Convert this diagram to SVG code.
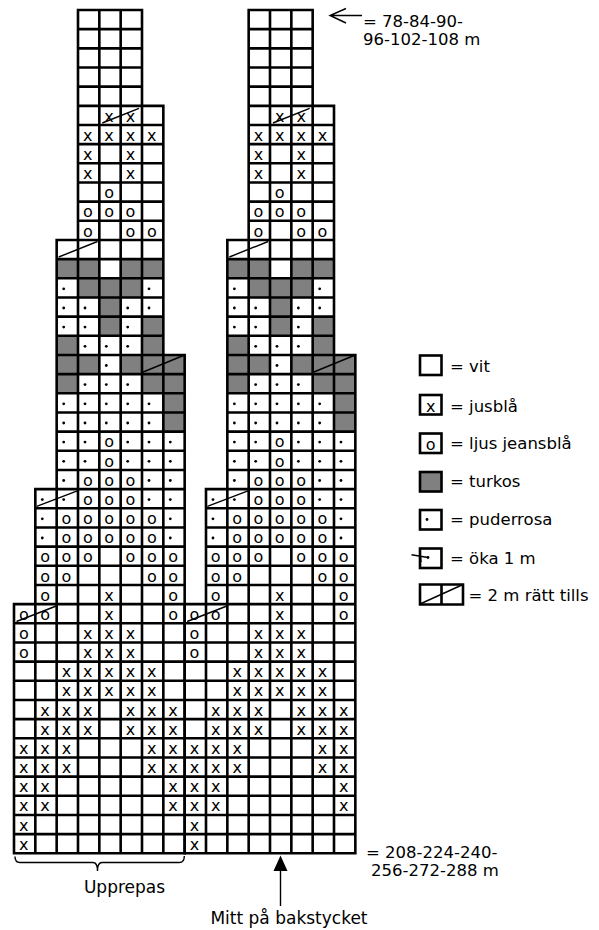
<svg xmlns="http://www.w3.org/2000/svg" xmlns:xlink="http://www.w3.org/1999/xlink" width="599" height="930" viewBox="0 0 599 930">
<style>
.gl{fill:none;stroke:#000;stroke-width:2.6;stroke-linecap:square}
.gr{fill:#808080}
.dg{fill:none;stroke:#000;stroke-width:1.4}
.t{font-family:"DejaVu Sans",sans-serif;font-size:16px;text-anchor:middle;fill:#000}
.lb{font-family:"DejaVu Sans",sans-serif;font-size:16.5px;fill:#000}
.bl{font-family:"DejaVu Sans",sans-serif;font-size:17px;fill:#000;text-anchor:middle}
.th{fill:none;stroke:#000;stroke-width:1.4}
</style>
<defs>
<g id="art">
<g class="gr">
<rect x="56.67" y="259.15" width="42.67" height="19.17"/>
<rect x="120.67" y="259.15" width="42.67" height="19.17"/>
<rect x="78" y="278.31" width="64" height="19.17"/>
<rect x="99.33" y="297.48" width="21.33" height="19.17"/>
<rect x="99.33" y="316.64" width="21.33" height="19.17"/>
<rect x="142" y="316.64" width="21.33" height="19.17"/>
<rect x="56.67" y="335.81" width="21.33" height="19.17"/>
<rect x="142" y="335.81" width="21.33" height="19.17"/>
<rect x="56.67" y="354.97" width="42.67" height="19.17"/>
<rect x="120.67" y="354.97" width="64" height="19.17"/>
<rect x="56.67" y="374.14" width="21.33" height="19.17"/>
<rect x="142" y="374.14" width="42.67" height="19.17"/>
<rect x="163.33" y="393.3" width="21.33" height="38.33"/>
</g>
<path class="gl" d="M78,10V105.83M99.33,10V105.83M120.67,10V105.83M142,10V105.83
M78,10H142M78,29.17H142M78,48.33H142M78,67.5H142M78,86.66H142
M78,105.83V239.98M99.33,105.83V239.98M120.67,105.83V239.98M142,105.83V239.98M163.33,105.83V239.98
M78,105.83H163.33M78,124.99H163.33M78,144.16H163.33M78,163.32H163.33M78,182.49H163.33M78,201.65H163.33M78,220.82H163.33
M56.67,239.98V354.97M78,239.98V354.97M99.33,239.98V354.97M120.67,239.98V354.97M142,239.98V354.97M163.33,239.98V354.97
M56.67,239.98H163.33M56.67,259.15H163.33M56.67,278.31H163.33M56.67,297.48H163.33M56.67,316.64H163.33M56.67,335.81H163.33
M56.67,354.97V489.13M78,354.97V489.13M99.33,354.97V489.13M120.67,354.97V489.13M142,354.97V489.13M163.33,354.97V489.13M184.67,354.97V489.13
M56.67,354.97H184.67M56.67,374.14H184.67M56.67,393.3H184.67M56.67,412.47H184.67M56.67,431.63H184.67M56.67,450.8H184.67M56.67,469.96H184.67
M35.33,489.13V604.12M56.67,489.13V604.12M78,489.13V604.12M99.33,489.13V604.12M120.67,489.13V604.12M142,489.13V604.12M163.33,489.13V604.12M184.67,489.13V604.12
M35.33,489.13H184.67M35.33,508.29H184.67M35.33,527.46H184.67M35.33,546.62H184.67M35.33,565.79H184.67M35.33,584.95H184.67
M14,604.12V853.26M35.33,604.12V853.26M56.67,604.12V853.26M78,604.12V853.26M99.33,604.12V853.26M120.67,604.12V853.26M142,604.12V853.26M163.33,604.12V853.26M184.67,604.12V853.26
M14,604.12H184.67M14,623.28H184.67M14,642.45H184.67M14,661.61H184.67M14,680.78H184.67M14,699.94H184.67M14,719.11H184.67M14,738.27H184.67M14,757.44H184.67M14,776.6H184.67M14,795.77H184.67M14,814.93H184.67M14,834.1H184.67M14,853.26H184.67"/>
<g fill="#000">
<circle cx="63.7" cy="288.8" r="1.4"/><circle cx="149" cy="288.8" r="1.4"/>
<circle cx="63.7" cy="308" r="1.4"/><circle cx="85" cy="308" r="1.4"/><circle cx="127.7" cy="308" r="1.4"/><circle cx="149" cy="308" r="1.4"/>
<circle cx="63.7" cy="327.1" r="1.4"/><circle cx="85" cy="327.1" r="1.4"/><circle cx="127.7" cy="327.1" r="1.4"/>
<circle cx="85" cy="346.3" r="1.4"/><circle cx="106.3" cy="346.3" r="1.4"/><circle cx="127.7" cy="346.3" r="1.4"/>
<circle cx="106.3" cy="365.5" r="1.4"/>
<circle cx="85" cy="384.6" r="1.4"/><circle cx="106.3" cy="384.6" r="1.4"/><circle cx="127.7" cy="384.6" r="1.4"/>
<circle cx="63.7" cy="403.8" r="1.4"/><circle cx="85" cy="403.8" r="1.4"/><circle cx="106.3" cy="403.8" r="1.4"/><circle cx="127.7" cy="403.8" r="1.4"/><circle cx="149" cy="403.8" r="1.4"/>
<circle cx="63.7" cy="423" r="1.4"/><circle cx="85" cy="423" r="1.4"/><circle cx="106.3" cy="423" r="1.4"/><circle cx="127.7" cy="423" r="1.4"/><circle cx="149" cy="423" r="1.4"/>
<circle cx="63.7" cy="442.1" r="1.4"/><circle cx="85" cy="442.1" r="1.4"/><circle cx="127.7" cy="442.1" r="1.4"/><circle cx="149" cy="442.1" r="1.4"/><circle cx="170.3" cy="442.1" r="1.4"/>
<circle cx="63.7" cy="461.3" r="1.4"/><circle cx="85" cy="461.3" r="1.4"/><circle cx="127.7" cy="461.3" r="1.4"/><circle cx="149" cy="461.3" r="1.4"/><circle cx="170.3" cy="461.3" r="1.4"/>
<circle cx="63.7" cy="480.5" r="1.4"/><circle cx="149" cy="480.5" r="1.4"/><circle cx="170.3" cy="480.5" r="1.4"/>
<circle cx="42.3" cy="499.6" r="1.4"/><circle cx="63.7" cy="499.6" r="1.4"/><circle cx="149" cy="499.6" r="1.4"/><circle cx="170.3" cy="499.6" r="1.4"/>
<circle cx="42.3" cy="518.8" r="1.4"/><circle cx="170.3" cy="518.8" r="1.4"/>
<circle cx="42.3" cy="538" r="1.4"/><circle cx="170.3" cy="538" r="1.4"/>
</g>
<path class="dg" d="M102.3,123L139,108.3M58.7,257L97.5,241.5M142,372.5L184.67,355M36.7,506.3L77.3,490.8M16.5,621.5L57.5,605.5"/>
</g>
</defs>
<rect width="599" height="930" fill="#fff"/>
<g id="chart-left">
<use xlink:href="#art" href="#art"/>
<g class="t">
<text x="109.1" y="121.5">x</text><text x="130.5" y="121.5">x</text>
<text x="87.8" y="140.7">x</text><text x="109.1" y="140.7">x</text><text x="130.5" y="140.7">x</text><text x="151.8" y="140.7">x</text>
<text x="87.8" y="159.8">x</text><text x="130.5" y="159.8">x</text>
<text x="87.8" y="179">x</text><text x="130.5" y="179">x</text>
<text x="109.1" y="198.2">o</text>
<text x="87.8" y="217.3">o</text><text x="109.1" y="217.3">o</text><text x="130.5" y="217.3">o</text>
<text x="87.8" y="236.5">o</text><text x="130.5" y="236.5">o</text><text x="151.8" y="236.5">o</text>
<text x="109.1" y="447.3">o</text>
<text x="109.1" y="466.5">o</text>
<text x="87.8" y="485.6">o</text><text x="109.1" y="485.6">o</text><text x="130.5" y="485.6">o</text>
<text x="87.8" y="504.8">o</text><text x="109.1" y="504.8">o</text><text x="130.5" y="504.8">o</text>
<text x="66.5" y="524">o</text><text x="87.8" y="524">o</text><text x="109.1" y="524">o</text><text x="130.5" y="524">o</text><text x="151.8" y="524">o</text>
<text x="66.5" y="543.1">o</text><text x="87.8" y="543.1">o</text><text x="109.1" y="543.1">o</text><text x="130.5" y="543.1">o</text><text x="151.8" y="543.1">o</text>
<text x="45.1" y="562.3">o</text><text x="66.5" y="562.3">o</text><text x="87.8" y="562.3">o</text><text x="130.5" y="562.3">o</text><text x="151.8" y="562.3">o</text><text x="173.1" y="562.3">o</text>
<text x="45.1" y="581.5">o</text><text x="66.5" y="581.5">o</text><text x="151.8" y="581.5">o</text><text x="173.1" y="581.5">o</text>
<text x="45.1" y="600.6">o</text><text x="109.1" y="600.6">x</text><text x="173.1" y="600.6">o</text>
<text x="23.8" y="619.8">o</text><text x="45.1" y="619.8">o</text><text x="109.1" y="619.8">x</text><text x="173.1" y="619.8">o</text>
<text x="23.8" y="639">o</text><text x="87.8" y="639">x</text><text x="109.1" y="639">x</text><text x="130.5" y="639">x</text>
<text x="23.8" y="658.1">o</text><text x="87.8" y="658.1">x</text><text x="109.1" y="658.1">x</text><text x="130.5" y="658.1">x</text>
<text x="66.5" y="677.3">x</text><text x="87.8" y="677.3">x</text><text x="109.1" y="677.3">x</text><text x="130.5" y="677.3">x</text><text x="151.8" y="677.3">x</text>
<text x="66.5" y="696.4">x</text><text x="87.8" y="696.4">x</text><text x="109.1" y="696.4">x</text><text x="130.5" y="696.4">x</text><text x="151.8" y="696.4">x</text>
<text x="45.1" y="715.6">x</text><text x="66.5" y="715.6">x</text><text x="87.8" y="715.6">x</text><text x="130.5" y="715.6">x</text><text x="151.8" y="715.6">x</text><text x="173.1" y="715.6">x</text>
<text x="45.1" y="734.8">x</text><text x="66.5" y="734.8">x</text><text x="87.8" y="734.8">x</text><text x="130.5" y="734.8">x</text><text x="151.8" y="734.8">x</text><text x="173.1" y="734.8">x</text>
<text x="23.8" y="753.9">x</text><text x="45.1" y="753.9">x</text><text x="66.5" y="753.9">x</text><text x="151.8" y="753.9">x</text><text x="173.1" y="753.9">x</text>
<text x="23.8" y="773.1">x</text><text x="45.1" y="773.1">x</text><text x="66.5" y="773.1">x</text><text x="151.8" y="773.1">x</text><text x="173.1" y="773.1">x</text>
<text x="23.8" y="792.3">x</text><text x="45.1" y="792.3">x</text><text x="173.1" y="792.3">x</text>
<text x="23.8" y="811.4">x</text><text x="45.1" y="811.4">x</text><text x="173.1" y="811.4">x</text>
<text x="23.8" y="830.6">x</text>
<text x="23.8" y="849.8">x</text>
</g>
</g>
<g id="chart-right" transform="translate(170.67,0)">
<use xlink:href="#art" href="#art"/>
<g class="t">
<text x="109.1" y="121.5">x</text><text x="130.5" y="121.5">x</text>
<text x="87.8" y="140.7">x</text><text x="109.1" y="140.7">x</text><text x="130.5" y="140.7">x</text><text x="151.8" y="140.7">x</text>
<text x="87.8" y="159.8">x</text><text x="130.5" y="159.8">x</text>
<text x="87.8" y="179">x</text><text x="130.5" y="179">x</text>
<text x="109.1" y="198.2">o</text>
<text x="87.8" y="217.3">o</text><text x="109.1" y="217.3">o</text><text x="130.5" y="217.3">o</text>
<text x="87.8" y="236.5">o</text><text x="130.5" y="236.5">o</text><text x="151.8" y="236.5">o</text>
<text x="109.1" y="447.3">o</text>
<text x="109.1" y="466.5">o</text>
<text x="87.8" y="485.6">o</text><text x="109.1" y="485.6">o</text><text x="130.5" y="485.6">o</text>
<text x="87.8" y="504.8">o</text><text x="109.1" y="504.8">o</text><text x="130.5" y="504.8">o</text>
<text x="66.5" y="524">o</text><text x="87.8" y="524">o</text><text x="109.1" y="524">o</text><text x="130.5" y="524">o</text><text x="151.8" y="524">o</text>
<text x="66.5" y="543.1">o</text><text x="87.8" y="543.1">o</text><text x="109.1" y="543.1">o</text><text x="130.5" y="543.1">o</text><text x="151.8" y="543.1">o</text>
<text x="45.1" y="562.3">o</text><text x="66.5" y="562.3">o</text><text x="87.8" y="562.3">o</text><text x="130.5" y="562.3">o</text><text x="151.8" y="562.3">o</text><text x="173.1" y="562.3">o</text>
<text x="45.1" y="581.5">o</text><text x="66.5" y="581.5">o</text><text x="151.8" y="581.5">o</text><text x="173.1" y="581.5">o</text>
<text x="45.1" y="600.6">o</text><text x="109.1" y="600.6">x</text><text x="173.1" y="600.6">o</text>
<text x="23.8" y="619.8">o</text><text x="45.1" y="619.8">o</text><text x="109.1" y="619.8">x</text><text x="173.1" y="619.8">o</text>
<text x="23.8" y="639">o</text><text x="87.8" y="639">x</text><text x="109.1" y="639">x</text><text x="130.5" y="639">x</text>
<text x="23.8" y="658.1">o</text><text x="87.8" y="658.1">x</text><text x="109.1" y="658.1">x</text><text x="130.5" y="658.1">x</text>
<text x="66.5" y="677.3">x</text><text x="87.8" y="677.3">x</text><text x="109.1" y="677.3">x</text><text x="130.5" y="677.3">x</text><text x="151.8" y="677.3">x</text>
<text x="66.5" y="696.4">x</text><text x="87.8" y="696.4">x</text><text x="109.1" y="696.4">x</text><text x="130.5" y="696.4">x</text><text x="151.8" y="696.4">x</text>
<text x="45.1" y="715.6">x</text><text x="66.5" y="715.6">x</text><text x="87.8" y="715.6">x</text><text x="130.5" y="715.6">x</text><text x="151.8" y="715.6">x</text><text x="173.1" y="715.6">x</text>
<text x="45.1" y="734.8">x</text><text x="66.5" y="734.8">x</text><text x="87.8" y="734.8">x</text><text x="130.5" y="734.8">x</text><text x="151.8" y="734.8">x</text><text x="173.1" y="734.8">x</text>
<text x="23.8" y="753.9">x</text><text x="45.1" y="753.9">x</text><text x="66.5" y="753.9">x</text><text x="151.8" y="753.9">x</text><text x="173.1" y="753.9">x</text>
<text x="23.8" y="773.1">x</text><text x="45.1" y="773.1">x</text><text x="66.5" y="773.1">x</text><text x="151.8" y="773.1">x</text><text x="173.1" y="773.1">x</text>
<text x="23.8" y="792.3">x</text><text x="45.1" y="792.3">x</text><text x="173.1" y="792.3">x</text>
<text x="23.8" y="811.4">x</text><text x="45.1" y="811.4">x</text><text x="173.1" y="811.4">x</text>
<text x="23.8" y="830.6">x</text>
<text x="23.8" y="849.8">x</text>
</g>
</g>
<g id="label-top">
<path class="th" d="M346,8.5L330,15.5L346,23M330,15.5H362"/>
<text class="lb" x="363" y="26.5">= 78-84-90-</text>
<text class="lb" x="363" y="44.5">96-102-108 m</text>
</g>
<g id="label-bottom">
<text class="lb" x="366" y="857.5">= 208-224-240-</text>
<text class="lb" x="371" y="875.5">256-272-288 m</text>
</g>
<g id="upprepas">
<path class="th" d="M15,856.5Q15,862.5 20,862.5L93,862.5Q97.5,862.5 97.5,871Q97.5,862.5 102,862.5L179.5,862.5Q184.3,862.5 184.3,856"/>
<text class="bl" x="124.5" y="893">Upprepas</text>
</g>
<g id="mitt">
<path d="M280.5,855.5L287.5,871H273.5Z" fill="#000"/>
<path class="th" d="M280.5,870V906"/>
<text class="bl" x="289" y="924">Mitt på bakstycket</text>
</g>
<g id="legend">
<g id="leg-vit"><rect class="gl" x="420" y="355.5" width="21.5" height="19.5"/><text class="lb" x="450" y="372">= vit</text></g>
<g id="leg-x"><rect class="gl" x="420" y="395" width="21.5" height="19.5"/><text class="t" x="430.75" y="411.5">x</text><text class="lb" x="450" y="411.5">= jusblå</text></g>
<g id="leg-o"><rect class="gl" x="420" y="433.5" width="21.5" height="19.5"/><text class="t" x="430.75" y="449.5">o</text><text class="lb" x="450" y="449">= ljus jeansblå</text></g>
<g id="leg-turkos"><rect class="gl" x="420" y="472" width="21.5" height="19.5" style="fill:#808080"/><text class="lb" x="450" y="487">= turkos</text></g>
<g id="leg-puder"><rect class="gl" x="420" y="510" width="21.5" height="19.5"/><circle cx="427" cy="519.5" r="1.4" fill="#000"/><text class="lb" x="450" y="524.5">= puderrosa</text></g>
<g id="leg-oka"><rect class="gl" x="420" y="548.5" width="21.5" height="19.5"/><circle cx="428" cy="557.5" r="1.4" fill="#000"/><path class="th" d="M411.5,554.8L428,557.5M420.5,556.5L421,562"/><text class="lb" x="450" y="563.5">= öka 1 m</text></g>
<g id="leg-2m"><path class="gl" d="M420,584.5H463V604.5H420ZM441.5,584.5V604.5"/><path class="dg" d="M420,604L463,584.5"/><text class="lb" x="468.5" y="600.5">= 2 m rätt tills</text></g>
</g>
</svg>
